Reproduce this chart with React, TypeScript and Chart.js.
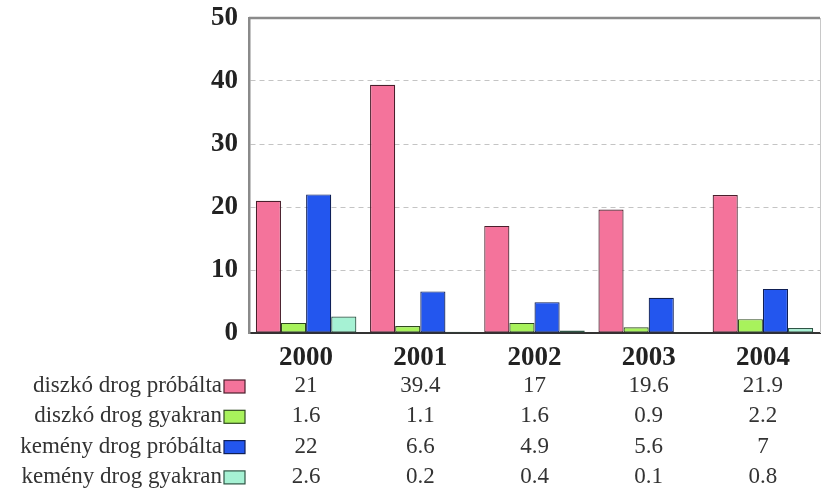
import React, { useEffect, useRef } from "react";
import { Chart, registerables } from "chart.js";

Chart.register(...registerables);

const categories = ["2000", "2001", "2002", "2003", "2004"];
const seriesNames = [
  "diszkó drog próbálta",
  "diszkó drog gyakran",
  "kemény drog próbálta",
  "kemény drog gyakran",
];
const diszkoProbalta = [21, 39.4, 17, 19.6, 21.9];
const diszkoGyakran = [1.6, 1.1, 1.6, 0.9, 2.2];
const kemenyProbalta = [22, 6.6, 4.9, 5.6, 7];
const kemenyGyakran = [2.6, 0.2, 0.4, 0.1, 0.8];
const yTicks = [0, 10, 20, 30, 40, 50];

const fills = ["#f4739b", "#a8f25c", "#2356ee", "#a6f2d4"];
const strokes = ["#4a1f2c", "#2f4a1f", "#0f1f55", "#2f5545"];

const FONT = "'Liberation Serif', 'DejaVu Serif', serif";

const tablePlugin = {
  id: "dataTable",
  afterDraw(chart: any) {
    const ctx = chart.ctx;
    const area = chart.chartArea;
    const x = chart.scales.x;
    ctx.save();
    // frame: top and right border
    ctx.strokeStyle = "#8a8a8a";
    ctx.lineWidth = 2.5;
    ctx.beginPath();
    ctx.moveTo(area.left, area.top);
    ctx.lineTo(area.right, area.top);
    ctx.stroke();
    ctx.strokeStyle = "#c8c8c8";
    ctx.lineWidth = 1;
    ctx.beginPath();
    ctx.moveTo(area.right + 0.5, area.top);
    ctx.lineTo(area.right + 0.5, area.bottom);
    ctx.stroke();

    const rowTop = area.bottom + 53;
    const rowH = 30.3;
    chart.data.datasets.forEach((ds: any, r: number) => {
      const cy = rowTop + r * rowH;
      ctx.font = `23px ${FONT}`;
      ctx.fillStyle = "#333";
      ctx.textAlign = "right";
      ctx.textBaseline = "middle";
      ctx.fillText(ds.label, area.left - 27, cy);
      // legend swatch
      ctx.fillStyle = ds.backgroundColor;
      ctx.fillRect(area.left - 25, cy - 6, 21, 13);
      ctx.strokeStyle = ds.borderColor;
      ctx.lineWidth = 1.2;
      ctx.strokeRect(area.left - 25, cy - 6, 21, 13);
      ctx.fillStyle = "#333";
      ctx.textAlign = "center";
      ds.data.forEach((v: number, i: number) => {
        ctx.fillText(String(v), x.getPixelForValue(i), cy);
      });
    });
    ctx.restore();
  },
};

export default function App() {
  const ref = useRef<HTMLCanvasElement>(null);
  useEffect(() => {
    if (!ref.current) return;
    const data = [diszkoProbalta, diszkoGyakran, kemenyProbalta, kemenyGyakran];
    const chart = new Chart(ref.current, {
      type: "bar",
      data: {
        labels: categories,
        datasets: data.map((d, i) => ({
          label: seriesNames[i],
          data: d,
          backgroundColor: fills[i],
          borderColor: strokes[i],
          borderWidth: 1.2,
          borderSkipped: false,
          categoryPercentage: 0.88,
          barPercentage: 1,
        })),
      },
      options: {
        responsive: false,
        animation: false,
        layout: { padding: { top: 18, right: 2, left: 0, bottom: 120 } },
        plugins: { legend: { display: false }, tooltip: { enabled: false } },
        scales: {
          x: {
            grid: { display: false, drawTicks: false },
            border: { display: true, color: "#333", width: 2 },
            ticks: {
              padding: 9,
              color: "#222",
              font: { family: FONT, size: 27, weight: "bold" },
            },
            afterFit: (s: any) => {
              s.height = 40;
              s.paddingLeft = 0;
              s.paddingRight = 0;
            },
          },
          y: {
            min: 0,
            max: 50,
            afterBuildTicks: (s: any) => {
              s.ticks = yTicks.map((v) => ({ value: v }));
            },
            grid: {
              drawTicks: false,
              color: (c: any) =>
                c.tick && (c.tick.value === 0 || c.tick.value === 50) ? "rgba(0,0,0,0)" : "#c4c4c4",
              lineWidth: 1,
            },
            border: { display: true, color: "#8a8a8a", width: 2.5, dash: [5, 4], dashOffset: 0 },
            ticks: {
              padding: 11,
              color: "#222",
              font: { family: FONT, size: 27, weight: "bold" },
            },
            afterFit: (s: any) => {
              s.width = 249;
              s.paddingTop = 0;
              s.paddingBottom = 0;
            },
          },
        },
      },
      plugins: [tablePlugin],
    });
    return () => chart.destroy();
  }, []);
  return (
    <div style={{ position: "fixed", left: 0, top: 0, width: 822, height: 493, background: "#fff" }}>
      <canvas ref={ref} width={822} height={493} />
    </div>
  );
}
